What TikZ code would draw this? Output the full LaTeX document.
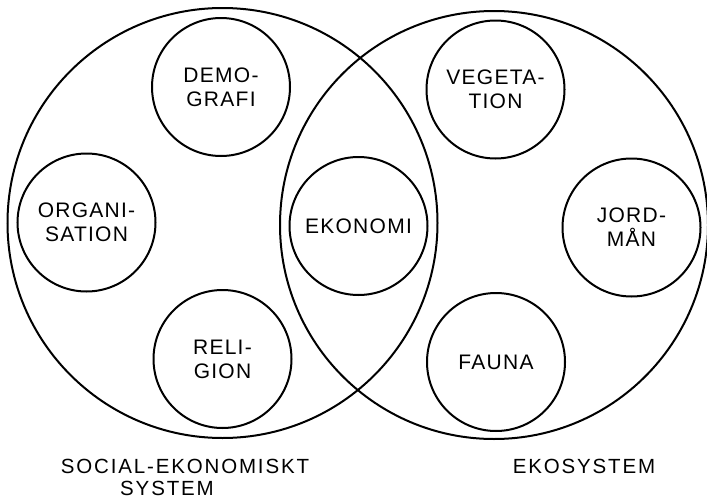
\documentclass[tikz,border=0pt]{standalone}
\usepackage{fontspec}
\newfontfamily\lettering[LetterSpace=6]{Liberation Sans}
\newfontfamily\widelettering[LetterSpace=9]{Liberation Sans}
\begin{document}
\begin{tikzpicture}[x=1pt, y=-1pt, line width=2pt,
    krets/.style={circle, draw, inner sep=0pt, minimum size=430pt},
    delkrets/.style={circle, draw, inner sep=0pt, minimum size=138pt, align=center,
      font=\lettering\fontsize{21}{24}\selectfont},
    etikett/.style={inner sep=0pt, font=\widelettering\fontsize{20.5}{22}\selectfont}]
    \useasboundingbox (0, 0) rectangle (707, 498);

    \node[krets] (soc) at (222.5, 223) {};
    \node[krets, minimum size=428pt] (ekosys) at (494, 225) {};

    \node[delkrets] (demo) at (221, 87) {DEMO-\\GRAFI};
    \node[delkrets] (org) at (86.5, 222.5) {ORGANI-\\SATION};
    \node[delkrets] (rel) at (222.5, 359) {RELI-\\GION};

    \node[delkrets] (ekon) at (358.5, 226) {EKONOMI};

    \node[delkrets] (veg) at (495.5, 89.5) {VEGETA-\\TION};
    \node[delkrets] (jord) at (631.5, 227.5) {JORD-\\MÅN};
    \node[delkrets] (fauna) at (496, 362) {FAUNA};

    \node[etikett] (soclbl) at (185, 466) {SOCIAL-EKONOMISKT};
    \node[etikett] (soclbl2) at (167, 488) {SYSTEM};
    \node[etikett] (ekolbl) at (584, 466) {EKOSYSTEM};

  \end{tikzpicture}
\end{document}
